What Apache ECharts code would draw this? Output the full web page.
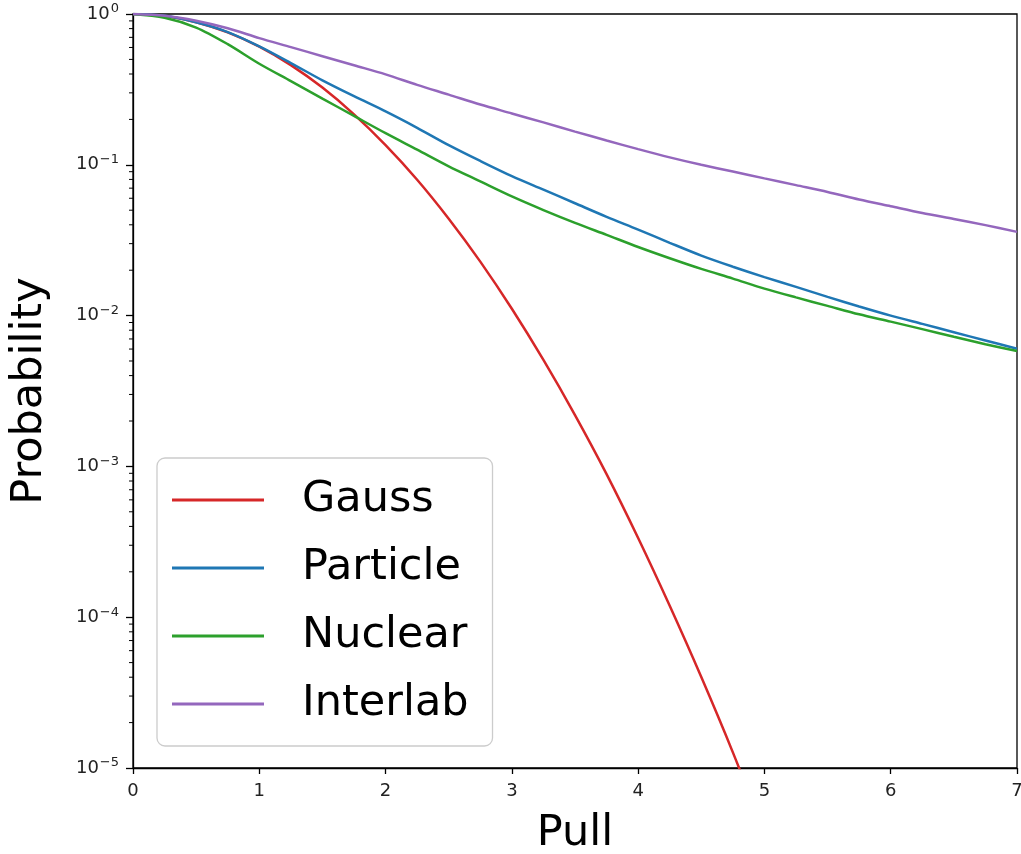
<!DOCTYPE html>
<html>
<head>
<meta charset="UTF-8">
<title>Pull probability</title>
<script src="https://cdn.jsdelivr.net/npm/echarts@6/dist/echarts.min.js" type="text/javascript"></script>
<style type="text/css">
    html,body{
        margin:0;
        height:100%;
        background:#fff;
    }
</style>
</head>
<body>
<div id="container" style="width:1021px;height:854px"></div>
<script type="text/javascript">
	// pull values (x axis)
	var pull = [0, 0.25, 0.5, 0.75, 1, 1.25, 1.5, 1.75, 2, 2.25, 2.5, 2.75, 3, 3.25, 3.5,
	            3.75, 4, 4.25, 4.5, 4.75, 5, 5.25, 5.5, 5.75, 6, 6.25, 6.5, 6.75, 7];
	var gaussPull = [0, 0.25, 0.5, 0.75, 1, 1.25, 1.5, 1.75, 2, 2.25, 2.5, 2.75, 3, 3.25, 3.5,
	                 3.75, 4, 4.25, 4.5, 4.75, 5];
	// probabilities
	var gauss = [1, 0.969, 0.882, 0.755, 0.607, 0.458, 0.325, 0.216, 0.135, 0.0796, 0.0439,
	             0.0228, 0.0111, 0.00508, 0.00219, 0.000889, 0.000335, 0.000119, 0.0000401,
	             0.0000127, 0.0000037];
	var particle = [1, 0.973, 0.881, 0.759, 0.610, 0.473, 0.363, 0.285, 0.226, 0.176, 0.135,
	                0.106, 0.0841, 0.0684, 0.0556, 0.0452, 0.0372, 0.0304, 0.0250, 0.0211,
	                0.0180, 0.0155, 0.0133, 0.0115, 0.0100, 0.00881, 0.00776, 0.00684, 0.00603];
	var nuclear = [1, 0.944, 0.813, 0.631, 0.468, 0.359, 0.275, 0.211, 0.162, 0.126, 0.0977,
	               0.0776, 0.0617, 0.0501, 0.0412, 0.0343, 0.0285, 0.0240, 0.0204, 0.0176,
	               0.0151, 0.0132, 0.0116, 0.0102, 0.00912, 0.00813, 0.00724, 0.00646, 0.00582];
	var interlab = [1, 0.973, 0.902, 0.804, 0.692, 0.603, 0.525, 0.457, 0.398, 0.339, 0.292,
	                0.251, 0.219, 0.191, 0.166, 0.145, 0.127, 0.112, 0.100, 0.0902, 0.0813,
	                0.0733, 0.0661, 0.0589, 0.0531, 0.0479, 0.0437, 0.0398, 0.0359];
	var names = ['Gauss', 'Particle', 'Nuclear', 'Interlab'];
	var colors = ['#d62728', '#1f77b4', '#2ca02c', '#9467bd'];
	// y tick label exponents
	var yExp = {'1': '0', '0.1': '−1', '0.01': '−2', '0.001': '−3', '0.0001': '−4', '0.00001': '−5'};

	function pairs(xs, ys) {
		var out = [];
		for (var i = 0; i < ys.length; i++) out.push([xs[i], ys[i]]);
		return out;
	}

	// minor log ticks 2..9 in each decade
	var minorVals = [];
	for (var d = -5; d < 0; d++) {
		for (var m = 2; m <= 9; m++) minorVals.push([0, m * Math.pow(10, d)]);
	}

	var font = 'DejaVu Sans';
	var chart = echarts.init(document.getElementById('container'));
	var lineSeries = [gauss, particle, nuclear, interlab].map(function (ys, i) {
		return {
			name: names[i],
			type: 'line',
			data: pairs(i === 0 ? gaussPull : pull, ys),
			smooth: 0.3,
			symbol: 'none',
			clip: true,
			lineStyle: { color: colors[i], width: 2.5 },
			itemStyle: { color: colors[i] },
			z: 3
		};
	});
	lineSeries.push({
		type: 'custom',
		name: 'minor',
		silent: true,
		clip: false,
		data: minorVals,
		renderItem: function (params, api) {
			var p = api.coord([api.value(0), api.value(1)]);
			return {
				type: 'line',
				shape: { x1: p[0] - 4, y1: p[1], x2: p[0], y2: p[1] },
				style: { stroke: '#000', lineWidth: 1 }
			};
		}
	});

	var option = {
		animation: false,
		backgroundColor: '#fff',
		textStyle: { fontFamily: font },
		grid: {
			left: 133, right: 4, top: 14, bottom: 86,
			outerBoundsMode: 'none',
			containLabel: false,
			show: true, borderColor: '#000', borderWidth: 1.3, backgroundColor: 'transparent'
		},
		legend: {
			data: names,
			orient: 'vertical',
			left: 157,
			top: 458,
			icon: 'rect',
			itemWidth: 92,
			itemHeight: 3,
			itemGap: 16,
			padding: [16, 24, 16, 15],
			borderColor: '#cccccc',
			borderWidth: 1.3,
			borderRadius: 8,
			backgroundColor: 'rgba(255,255,255,0.8)',
			textStyle: { fontFamily: font, fontSize: 43, color: '#000', lineHeight: 52, padding: [0, 0, 0, 33] }
		},
		xAxis: {
			type: 'value',
			min: 0, max: 7, interval: 1,
			name: 'Pull',
			nameLocation: 'middle',
			nameGap: 44,
			nameTextStyle: { fontFamily: font, fontSize: 43, color: '#000' },
			axisLine: { show: true, lineStyle: { color: '#000', width: 1.3 } },
			axisTick: { show: true, inside: false, length: 6, lineStyle: { color: '#000', width: 1.3 } },
			axisLabel: { fontFamily: font, fontSize: 18, color: '#222', margin: 14 },
			splitLine: { show: false }
		},
		yAxis: {
			type: 'log',
			logBase: 10,
			min: 0.00001, max: 1,
			name: 'Probability',
			nameLocation: 'middle',
			nameGap: 82,
			nameTextStyle: { fontFamily: font, fontSize: 43, color: '#000' },
			axisLine: { show: true, lineStyle: { color: '#000', width: 1.3 } },
			axisTick: { show: true, inside: false, length: 7, lineStyle: { color: '#000', width: 1.3 } },
			axisLabel: {
				fontFamily: font, fontSize: 18, color: '#222', margin: 14,
				formatter: function (v) {
					var key = String(Number(v.toPrecision(3)));
					return '10{sup|' + (yExp[key] !== undefined ? yExp[key] : '') + '}';
				},
				rich: {
					sup: { fontFamily: font, fontSize: 13, color: '#222', padding: [0, 0, 10, 1] }
				}
			},
			splitLine: { show: false }
		},
		series: lineSeries
	};
	chart.setOption(option);
</script>
</body>
</html>
